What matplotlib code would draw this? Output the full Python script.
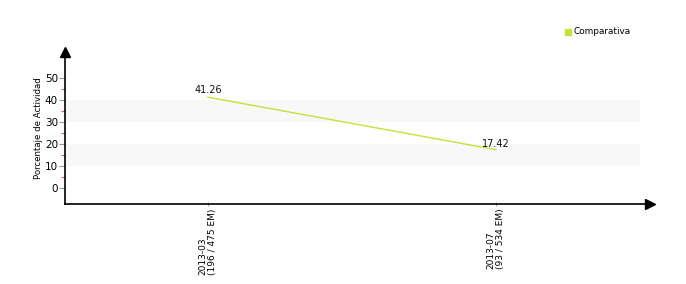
import matplotlib
matplotlib.use("Agg")
import matplotlib.pyplot as plt
from matplotlib.ticker import FixedLocator

categories = ["2013-03\n(196 / 475 EM)", "2013-07\n(93 / 534 EM)"]
values = [41.26, 17.42]
value_labels = ["41.26", "17.42"]
series_name = "Comparativa"
y_ticks = [0, 10, 20, 30, 40, 50]
y_minor_ticks = [5, 15, 25, 35, 45]
bands = [(10, 20), (30, 40)]

line_color = "#c8e03c"

fig = plt.figure(figsize=(6.86, 2.84), dpi=100)
W, H = 686, 284
ax_left, ax_right, ax_top, ax_bottom = 65, 650, 52, 204
ax = fig.add_axes([ax_left / W, 1 - ax_bottom / H,
                   (ax_right - ax_left) / W, (ax_bottom - ax_top) / H])

xs = list(range(len(categories)))
x0 = -0.4965
x_band_end = 1.5
ax.set_xlim(x0, 1.535)
ax.set_ylim(-7.27, 61.8)

for lo, hi in bands:
    ax.fill_between([x0, x_band_end], lo, hi, color="#f8f8f8", lw=0, zorder=0)

ax.plot(xs, values, color=line_color, lw=1.0, zorder=3)
ax.text(xs[0], values[0] + 0.8, value_labels[0], ha="center", va="bottom",
        fontsize=7, color="#111111")
ax.text(xs[1], values[1] + 0.3, value_labels[1], ha="center", va="bottom",
        fontsize=7, color="#111111")

for s in ["top", "right"]:
    ax.spines[s].set_visible(False)
for s in ["left", "bottom"]:
    ax.spines[s].set_linewidth(1.2)
    ax.spines[s].set_color("black")

ax.set_yticks(y_ticks)
ax.yaxis.set_minor_locator(FixedLocator(y_minor_ticks))
ax.tick_params(axis="y", which="major", length=4, width=0.8, color="#999999",
               labelsize=7.5, pad=1, direction="out")
ax.tick_params(axis="y", which="minor", length=3, width=0.8, color="#e06060",
               direction="out")
ax.set_xticks(xs)
ax.set_xticklabels(categories, rotation=90, fontsize=6.5, va="top", ha="center",
                   multialignment="left", linespacing=1.1)
ax.tick_params(axis="x", which="major", length=3, width=0.8, color="#aaaaaa",
               direction="inout", pad=2)
ax.set_ylabel("Porcentaje de Actividad", fontsize=6.2)
ax.yaxis.set_label_coords((43 - ax_left) / (ax_right - ax_left),
                          (204 - 128) / (ax_bottom - ax_top))

# arrow heads
ax.plot([0], [1], marker="^", markersize=7, color="black",
        transform=ax.transAxes, clip_on=False)
ax.plot([1], [0], marker=">", markersize=7, color="black",
        transform=ax.transAxes, clip_on=False)

# legend
fig.patches.append(plt.Rectangle((565 / W, 1 - 35 / H), 6 / W, 6 / H,
                                 transform=fig.transFigure,
                                 color=line_color, figure=fig))
fig.text(573 / W, 1 - 31 / H, series_name, fontsize=6.4, va="center", ha="left")

fig.savefig("out.png", dpi=100)
